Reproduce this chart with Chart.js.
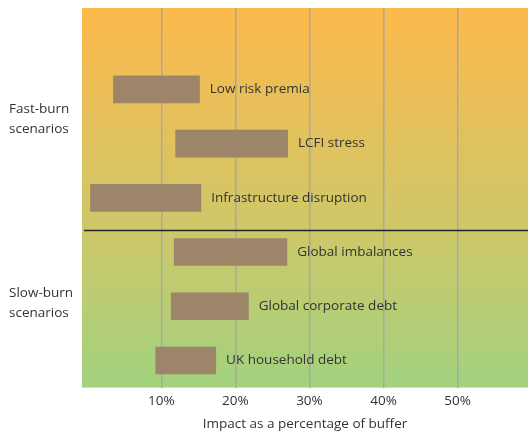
<!DOCTYPE html>
<html>
<head>
<meta charset="utf-8">
<script src="https://cdn.jsdelivr.net/npm/chart.js@4"></script>
<style>
html,body{margin:0;padding:0;background:#fff;}
#wrap{width:528px;height:435px;}
</style>
</head>
<body>
<div id="wrap"><canvas id="c" width="528" height="435"></canvas></div>
<script>
// Categories (top slot is empty spacing)
const categories = ['', 'Low risk premia', 'LCFI stress', 'Infrastructure disruption', 'Global imbalances', 'Global corporate debt', 'UK household debt'];
const lowValues  = [null, 3.5, 11.9, 0.4, 11.7, 11.3, 9.2];
const highValues = [null, 15.2, 27.1, 15.4, 27.0, 21.8, 17.4];
const tickValues = [10, 20, 30, 40, 50];
const groupLabels = [
  {lines: ['Fast-burn', 'scenarios'], at: 1.55},
  {lines: ['Slow-burn', 'scenarios'], at: 4.95}
];
const separatorAt = 3.6;
const axisTitle = 'Impact as a percentage of buffer';

const FONT = "'Open Sans', 'Noto Sans', sans-serif";
const FS = 13.5;
const TEXT = '#333333';

const ranges = lowValues.map((v, i) => v === null ? null : [v, highValues[i]]);

const bgPlugin = {
  id: 'bg',
  beforeDraw(chart) {
    const {ctx, chartArea: a} = chart;
    const g = ctx.createLinearGradient(0, a.top, 0, a.bottom);
    g.addColorStop(0, '#FDB94C');
    g.addColorStop(0.6, '#CCC86A');
    g.addColorStop(1, '#A2D27E');
    ctx.save();
    ctx.fillStyle = g;
    ctx.fillRect(a.left, a.top, a.right - a.left, a.bottom - a.top);
    ctx.restore();
  }
};

const overlayPlugin = {
  id: 'overlay',
  afterDraw(chart) {
    const {ctx, chartArea: a} = chart;
    const ys = chart.scales.y;
    ctx.save();
    // separator
    const sy = Math.round(ys.getPixelForValue(separatorAt)) + 0.5;
    ctx.strokeStyle = '#222222';
    ctx.lineWidth = 1.6;
    ctx.beginPath();
    ctx.moveTo(a.left + 2, sy);
    ctx.lineTo(a.right, sy);
    ctx.stroke();
    // bar labels
    ctx.font = FS + 'px ' + FONT;
    ctx.fillStyle = TEXT;
    ctx.textBaseline = 'middle';
    ctx.textAlign = 'left';
    const meta = chart.getDatasetMeta(0);
    meta.data.forEach((el, i) => {
      if (ranges[i] === null) return;
      const p = el.getProps(['x', 'y', 'base'], true);
      const right = Math.max(p.x, p.base);
      ctx.fillText(categories[i], right + 10, p.y);
    });
    // group labels
    groupLabels.forEach(g => {
      const cy = ys.getPixelForValue(g.at);
      const n = g.lines.length;
      g.lines.forEach((t, k) => {
        ctx.fillText(t, 9, cy + (k - (n - 1) / 2) * 20);
      });
    });
    ctx.restore();
  }
};

new Chart(document.getElementById('c'), {
  type: 'bar',
  data: {
    labels: categories,
    datasets: [{
      data: ranges,
      backgroundColor: '#9D856A',
      borderWidth: 0,
      barPercentage: 0.51,
      categoryPercentage: 1.0
    }]
  },
  options: {
    indexAxis: 'y',
    responsive: false,
    animation: false,
    devicePixelRatio: 1,
    layout: {padding: {left: 82, top: 8, right: 0, bottom: 3}},
    plugins: {legend: {display: false}, tooltip: {enabled: false}},
    scales: {
      y: {
        display: false
      },
      x: {
        min: -0.7,
        max: 59.5,
        z: 1,
        afterBuildTicks(s) { s.ticks = tickValues.map(v => ({value: v})); },
        grid: {color: '#A8A8A8', lineWidth: 1.5, drawTicks: false},
        border: {display: false},
        ticks: {
          padding: 5,
          color: TEXT,
          font: {family: FONT, size: FS},
          callback: v => v + '%'
        },
        title: {
          display: true,
          text: axisTitle,
          color: TEXT,
          font: {family: FONT, size: FS},
          padding: {top: 2, bottom: 0}
        }
      }
    }
  },
  plugins: [bgPlugin, overlayPlugin]
});
</script>
</body>
</html>
